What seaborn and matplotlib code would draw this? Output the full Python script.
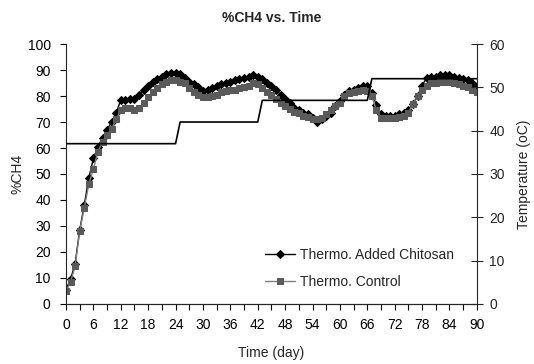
import matplotlib
matplotlib.use('Agg')
import matplotlib.pyplot as plt
from matplotlib.ticker import MultipleLocator
import pandas as pd
import seaborn as sns

# ===== data =====
days = list(range(91))

ch4_chitosan = [5.5, 9.5, 15.5, 28.5, 38, 48.5, 56, 60.5, 64, 67,
                70, 73.5, 78.5, 78.5, 79, 79, 80.5, 82.5, 84, 85.5,
                86.5, 87.5, 88.5, 89, 89, 88.5, 87, 85.5, 84.5, 83.5,
                82, 82.5, 83, 84, 84.5, 85, 85.5, 86, 86.5, 87,
                87.5, 88, 87.5, 86.5, 85, 84, 82.5, 80.5, 79, 77.5,
                75.5, 74.5, 73.5, 73, 71.5, 70, 71, 72.5, 73.5, 76,
                78, 80.5, 82, 82.5, 83, 84, 84, 81, 76.5, 73,
                72.5, 72.5, 72.5, 73, 73.5, 74.5, 77, 80, 84, 87,
                87.5, 87.5, 88, 88, 88, 87.5, 87, 86.5, 86, 85, 84]

ch4_control = [5, 8.5, 14.5, 28, 37, 46, 52, 58.5, 62.5, 65,
               67.5, 71, 74.5, 75.5, 75.5, 74.5, 75.5, 77.5, 79.5, 81.5,
               83, 84.5, 85.5, 86, 86, 85.5, 85, 83, 81.5, 80.5,
               79.5, 79.5, 80, 80.5, 81.5, 82, 82.5, 82.5, 83, 83.5,
               84, 85, 84.5, 83, 81.5, 80.5, 79, 77.5, 76, 75,
               74, 73.5, 72.5, 72, 71, 71, 71.5, 73, 74.5, 76,
               77.5, 80, 81, 81.5, 82, 82.5, 82, 80, 74.5, 71.5,
               71.5, 71.5, 71.5, 72, 72.5, 73.5, 77, 80, 82.5, 84,
               85, 85, 85.5, 85.5, 85.5, 85, 84.5, 84, 83.5, 82.5, 81.5]

temp_days = [0, 24, 25, 42, 43, 66, 67, 90]
temp_values = [37, 37, 42, 42, 47, 47, 52, 52]

df = pd.DataFrame({'day': days, 'chitosan': ch4_chitosan, 'control': ch4_control})
temp_df = pd.DataFrame({'day': temp_days, 'temp': temp_values})

# ===== style =====
sns.set_style('ticks')
plt.rcParams['font.family'] = ['Liberation Sans', 'DejaVu Sans']
plt.rcParams['axes.linewidth'] = 0.8
FS = 10

fig, ax = plt.subplots(figsize=(5.34, 3.64), dpi=100)
fig.subplots_adjust(left=0.1236, right=0.893, top=0.879, bottom=0.165)

sns.lineplot(data=df, x='day', y='chitosan', ax=ax, color='black', lw=1,
             marker='D', markersize=4, markeredgecolor='black', markerfacecolor='black',
             label='Thermo. Added Chitosan')
sns.lineplot(data=df, x='day', y='control', ax=ax, color='#808080', lw=1,
             marker='s', markersize=4.8, markeredgecolor='#5a5a5a', markerfacecolor='#5a5a5a',
             label='Thermo. Control')

ax.set_xlim(0, 90)
ax.set_ylim(0, 100)
ax.xaxis.set_major_locator(MultipleLocator(6))
ax.xaxis.set_minor_locator(MultipleLocator(3))
ax.yaxis.set_major_locator(MultipleLocator(10))
ax.tick_params(axis='both', which='both', direction='out', length=4, width=0.8,
               labelsize=FS, colors='black')
ax.tick_params(axis='x', which='both', pad=6)
ax.tick_params(axis='y', pad=7)
ax.set_xlabel('Time (day)', fontsize=FS, labelpad=10)
ax.set_ylabel('%CH4', fontsize=FS, labelpad=2)
ax.set_title('%CH4 vs. Time', fontsize=FS, fontweight='bold', pad=16)
for side in ['top', 'right']:
    ax.spines[side].set_visible(False)

# temperature on the right axis
ax2 = ax.twinx()
sns.lineplot(data=temp_df, x='day', y='temp', ax=ax2, color='black', lw=1.2)
ax2.set_ylim(0, 60)
ax2.yaxis.set_major_locator(MultipleLocator(10))
ax2.tick_params(axis='y', direction='inout', length=8, width=0.8, labelsize=FS, pad=5)
ax2.set_ylabel('Temperature (oC)', fontsize=FS, labelpad=9)
ax2.spines['top'].set_visible(False)
ax2.spines['left'].set_visible(False)

ax.legend(loc='center left', bbox_to_anchor=(0.484, 0.137), frameon=False,
          fontsize=FS, handlelength=2.2, handletextpad=0.3, labelspacing=0.95,
          borderpad=0, borderaxespad=0)

plt.savefig('out.png', dpi=100)
